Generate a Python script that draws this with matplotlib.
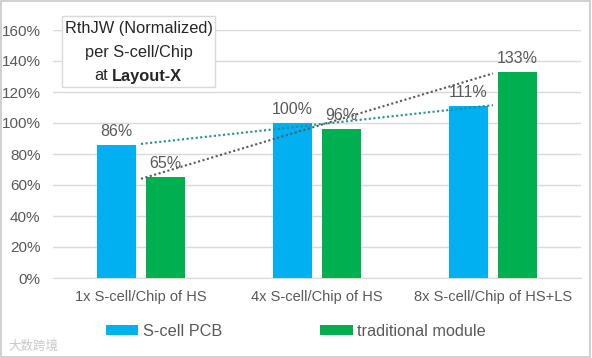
import matplotlib
matplotlib.use("Agg")
import matplotlib.pyplot as plt
import numpy as np
from matplotlib.patches import Rectangle

categories = ["1x S-cell/Chip of HS", "4x S-cell/Chip of HS", "8x S-cell/Chip of HS+LS"]
scell_pcb = [0.86, 1.00, 1.11]
traditional = [0.65, 0.96, 1.33]
scell_labels = ["86%", "100%", "111%"]
trad_labels = ["65%", "96%", "133%"]
yticks = [0, 0.2, 0.4, 0.6, 0.8, 1.0, 1.2, 1.4, 1.6]

plt.rcParams['font.family'] = ['Liberation Sans', 'DejaVu Sans']
blue = '#00B0F0'
green = '#00B050'
gray_txt = '#595959'

fig = plt.figure(figsize=(5.92, 3.58), dpi=100)
ax = fig.add_axes([53/592, 1-278/358, (581-53)/592, (278-30)/358])

x = np.arange(len(categories))
w = 0.222
ax.bar(x - 0.14, scell_pcb, w, color=blue, label='S-cell PCB', zorder=3)
ax.bar(x + 0.14, traditional, w, color=green, label='traditional module', zorder=3)

for xi, v, t in zip(x, scell_pcb, scell_labels):
    ax.text(xi - 0.14, v + 0.04, t, ha='center', va='bottom', fontsize=11.5, color=gray_txt, zorder=5)
for xi, v, t in zip(x, traditional, trad_labels):
    ax.text(xi + 0.14, v + 0.04, t, ha='center', va='bottom', fontsize=11.5, color=gray_txt, zorder=5)

# linear trendlines
xx = np.array([0, 2])
p1 = np.polyfit(x, scell_pcb, 1)
p2 = np.polyfit(x, traditional, 1)
ax.plot(xx, np.polyval(p1, xx), linestyle=(0, (1, 1.2)), color='#1F8F8F', lw=1.5, zorder=4)
ax.plot(xx, np.polyval(p2, xx), linestyle=(0, (1, 1.2)), color='#595959', lw=1.5, zorder=4)

ax.set_xlim(-0.5, 2.5)
ax.set_ylim(0, 1.6)
ax.set_yticks(yticks)
ax.set_yticklabels([f"{int(round(t*100))}%" for t in yticks], fontsize=11, color=gray_txt)
ax.set_xticks(x)
ax.set_xticklabels(categories, fontsize=10.5, color=gray_txt)
ax.tick_params(axis='both', length=0)
ax.tick_params(axis='x', pad=9)
ax.tick_params(axis='y', pad=9)
ax.grid(axis='y', color='#D9D9D9', lw=1, zorder=0)
for s in ['top', 'right', 'left']:
    ax.spines[s].set_visible(False)
ax.spines['bottom'].set_color('#D9D9D9')

# annotation box
fig.patches.append(Rectangle((62/592, 1-87/358), (215-62)/592, (87-16)/358,
                             transform=fig.transFigure, facecolor='white',
                             edgecolor='#D9D9D9', lw=1, zorder=10))
cx = 138.5/592
fs_box = 11.8
fig.text(cx, 1-29/358, "RthJW (Normalized)", ha='center', va='center', fontsize=fs_box, color='#262626', zorder=11)
fig.text(cx, 1-52/358, "per S-cell/Chip", ha='center', va='center', fontsize=fs_box, color='#262626', zorder=11)
fig.text(108/592, 1-76/358, "at", ha='right', va='center', fontsize=fs_box, color='#262626', zorder=11)
fig.text(112/592, 1-76/358, "Layout-X", ha='left', va='center', fontsize=fs_box, color='#262626', fontweight='bold', zorder=11)

leg = fig.legend(loc='center', bbox_to_anchor=(0.5, 1-331/358), ncol=2, frameon=False,
                 fontsize=11.7, handlelength=2.0, handleheight=0.6, columnspacing=6.0, handletextpad=0.3)
for t in leg.get_texts():
    t.set_color(gray_txt)

fig.text(8/592, 1-346/358, "大数跨境", family=['Noto Sans CJK SC', 'DejaVu Sans'], fontsize=9,
         color='#C8C8C8', ha='left', va='center')

fig.patches.append(Rectangle((0.002, 0.003), 0.995, 0.994, transform=fig.transFigure,
                             facecolor='none', edgecolor='#C8C8C8', lw=1.2))

fig.savefig('out.png', dpi=100)
